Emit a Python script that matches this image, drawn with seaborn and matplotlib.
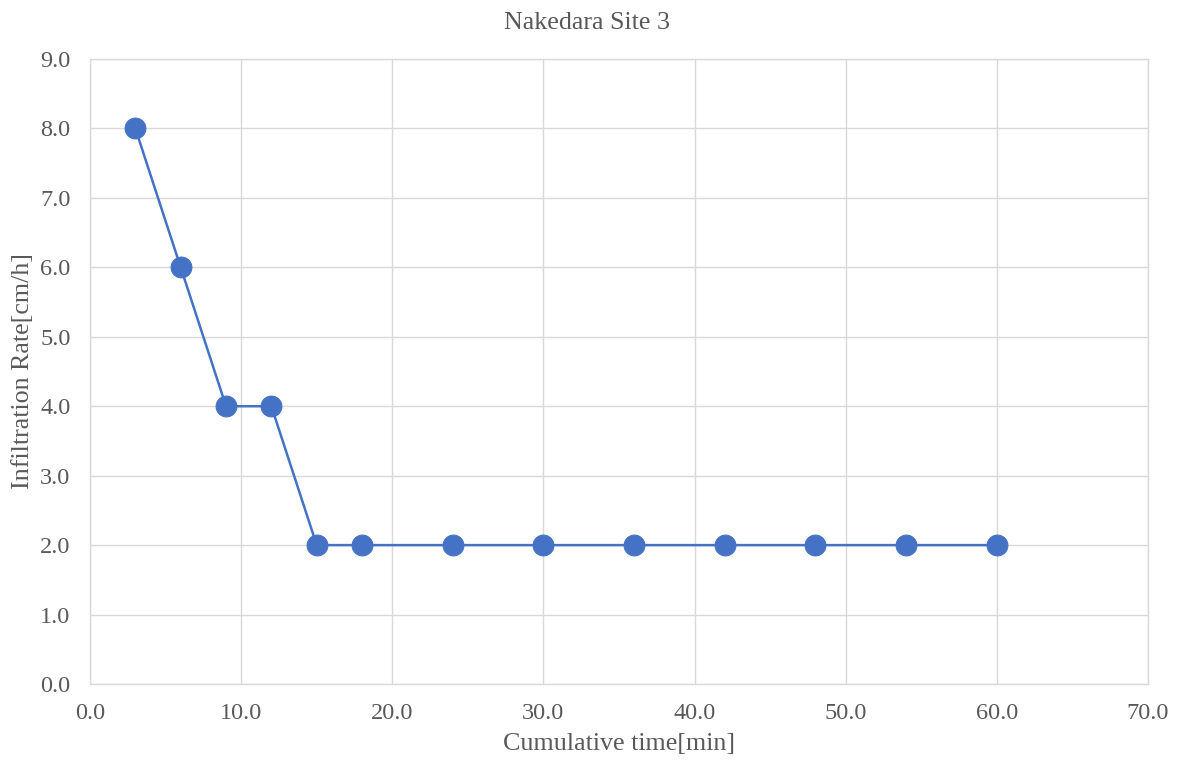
import matplotlib
matplotlib.use("Agg")
import matplotlib.pyplot as plt
import seaborn as sns
import pandas as pd

# Infiltration test readings
cumulative_time = [3, 6, 9, 12, 15, 18, 24, 30, 36, 42, 48, 54, 60]
infiltration_rate = [8.0, 6.0, 4.0, 4.0, 2.0, 2.0, 2.0, 2.0, 2.0, 2.0, 2.0, 2.0, 2.0]

x_ticks = [0, 10, 20, 30, 40, 50, 60, 70]
y_ticks = [0, 1, 2, 3, 4, 5, 6, 7, 8, 9]

df = pd.DataFrame({"time": cumulative_time, "rate": infiltration_rate})

sns.set_theme(style="white")
plt.rcParams["font.family"] = ["Liberation Serif", "DejaVu Serif"]

fig = plt.figure(figsize=(11.81, 7.60), dpi=100)
ax = fig.add_axes([90 / 1181, 1 - 684 / 760, (1148 - 90) / 1181, (684 - 59) / 760])

line_color = "#4472C4"
sns.lineplot(data=df, x="time", y="rate", ax=ax, color=line_color, linewidth=1.8,
             marker="o", markersize=15, markeredgecolor=line_color,
             markerfacecolor=line_color, zorder=3)

ax.set_xlim(0, 70)
ax.set_ylim(0, 9)
ax.set_xticks(x_ticks)
ax.set_yticks(y_ticks)
ax.set_xticklabels([f"{v:.1f}" for v in x_ticks])
ax.set_yticklabels([f"{v:.1f}" for v in y_ticks])

grid_color = "#D9D9D9"
ax.grid(True, color=grid_color, linewidth=1.0)
ax.set_axisbelow(True)
for s in ax.spines.values():
    s.set_color(grid_color)
    s.set_linewidth(1.0)

text_color = "#595959"
ax.tick_params(axis="x", length=0, labelsize=17.5, colors=text_color, pad=14)
ax.tick_params(axis="y", length=0, labelsize=17.5, colors=text_color, pad=14)
ax.set_xlabel("Cumulative time[min]", fontsize=18.7, color=text_color, labelpad=6)
ax.set_ylabel("Infiltration Rate[cm/h]", fontsize=18.7, color=text_color, va="center")
ax.yaxis.set_label_coords((23 - 90) / 1058, 0.5)
fig.text(587 / 1181, 1 - 23 / 760, "Nakedara Site 3", fontsize=18.7, color=text_color,
         ha="center", va="center")

fig.savefig("out.png", dpi=100, facecolor="white")
